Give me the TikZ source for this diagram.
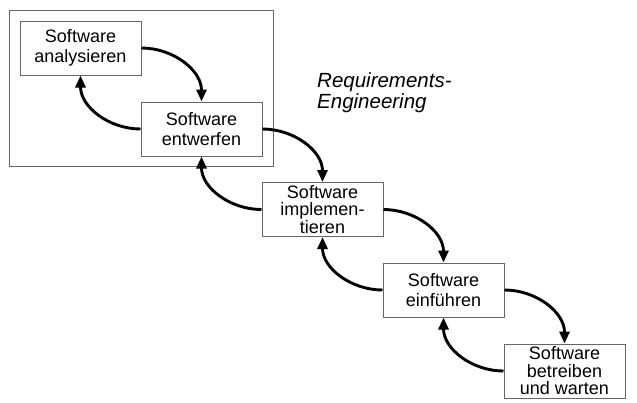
\documentclass[tikz,border=0pt]{standalone}
\usepackage{fontspec}
\setmainfont{Liberation Sans}
\usetikzlibrary{arrows.meta}
\begin{document}
\begin{tikzpicture}[x=1pt,y=-1pt,
  box/.style={draw=black!60, line width=1pt, minimum width=121pt, minimum height=54pt,
    inner sep=0pt, align=center, font=\fontsize{18}{20}\selectfont},
  boxthree/.style={box, font=\fontsize{18}{17.5}\selectfont},
  flow/.style={line width=2.9pt, -{Triangle[length=12pt,width=10pt]}},
  frame/.style={draw=black!60, line width=1pt, minimum width=264pt, minimum height=156pt, inner sep=0pt}]
\useasboundingbox (0,0) rectangle (637,402);
\node[frame] (fr) at (141,88) {};
\node[box] (a) at (80.5,48) {Software\\analysieren};
\node[box] (b) at (201.5,129) {Software\\entwerfen};
\node[boxthree] (c) at (322.5,209.5) {Software\\implemen-\\tieren};
\node[box] (d) at (443.5,290) {Software\\einführen};
\node[boxthree] (e) at (564.5,371) {Software\\betreiben\\und warten};
\node[anchor=north west, inner sep=0pt, align=left, font=\itshape\fontsize{20.5}{21}\selectfont] (re) at (317,72) {Requirements-\\Engineering};
\draw[flow] (a.east) to[out=0,in=90] (b.north);
\draw[flow] (b.west) to[out=180,in=-90] (a.south);
\draw[flow] (b.east) to[out=0,in=90] (c.north);
\draw[flow] (c.west) to[out=180,in=-90] (b.south);
\draw[flow] (c.east) to[out=0,in=90] (d.north);
\draw[flow] (d.west) to[out=180,in=-90] (c.south);
\draw[flow] (d.east) to[out=0,in=90] (e.north);
\draw[flow] (e.west) to[out=180,in=-90] (d.south);
\end{tikzpicture}
\end{document}
